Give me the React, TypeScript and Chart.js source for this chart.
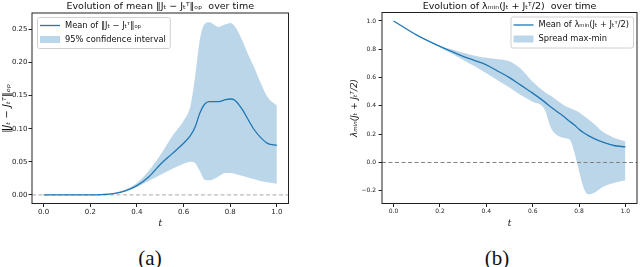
import React, { useEffect, useRef } from "react";
import { Chart, registerables } from "chart.js";
Chart.register(...registerables);

// ---------- data: panel (a) ----------
const tA = [0, 0.05, 0.1, 0.15, 0.2, 0.25, 0.3, 0.35, 0.4, 0.45, 0.5, 0.55, 0.6, 0.63, 0.65, 0.67, 0.69, 0.71, 0.75, 0.78, 0.8, 0.82, 0.85, 0.88, 0.9, 0.93, 0.96, 1.0];
const meanA = [0, 0, 0, 0, 0, 0.0005, 0.002, 0.006, 0.014, 0.027, 0.046, 0.062, 0.078, 0.09, 0.103, 0.124, 0.137, 0.141, 0.141, 0.144, 0.145, 0.143, 0.13, 0.112, 0.1, 0.087, 0.078, 0.075];
const upperA = [0, 0, 0, 0, 0, 0.001, 0.003, 0.008, 0.018, 0.036, 0.06, 0.088, 0.112, 0.135, 0.18, 0.235, 0.258, 0.261, 0.254, 0.258, 0.26, 0.255, 0.235, 0.21, 0.195, 0.17, 0.148, 0.135];
const lowerA = [0, 0, 0, 0, 0, 0.0003, 0.0015, 0.005, 0.012, 0.021, 0.03, 0.039, 0.047, 0.05, 0.048, 0.036, 0.023, 0.022, 0.028, 0.033, 0.033, 0.032, 0.029, 0.026, 0.024, 0.021, 0.019, 0.017];

// ---------- data: panel (b) ----------
const tB = [0, 0.1, 0.2, 0.25, 0.3, 0.35, 0.4, 0.45, 0.5, 0.55, 0.6, 0.65, 0.68, 0.7, 0.73, 0.76, 0.78, 0.8, 0.82, 0.84, 0.87, 0.9, 0.95, 1.0];
const meanB = [1.0, 0.9, 0.82, 0.785, 0.75, 0.72, 0.69, 0.645, 0.6, 0.545, 0.49, 0.43, 0.39, 0.365, 0.33, 0.29, 0.265, 0.235, 0.21, 0.19, 0.165, 0.145, 0.12, 0.11];
const maxB = [1.0, 0.9, 0.825, 0.8, 0.775, 0.755, 0.74, 0.73, 0.715, 0.66, 0.57, 0.5, 0.47, 0.445, 0.41, 0.385, 0.37, 0.355, 0.33, 0.305, 0.265, 0.22, 0.175, 0.15];
const minB = [1.0, 0.9, 0.815, 0.77, 0.725, 0.68, 0.63, 0.58, 0.53, 0.475, 0.43, 0.38, 0.24, 0.2, 0.175, 0.16, 0.07, -0.06, -0.18, -0.225, -0.21, -0.175, -0.145, -0.125];

// ---------- ticks & labels ----------
const xTicks = [0, 0.2, 0.4, 0.6, 0.8, 1.0];
const yTicksA = [0, 0.05, 0.1, 0.15, 0.2, 0.25];
const yTicksB = [-0.2, 0, 0.2, 0.4, 0.6, 0.8, 1.0];
const titleA = "Evolution of mean \u2016J\u209C \u2212 J\u209C\u1D40\u2016\u2092\u209A  over time";
const titleB = "Evolution of \u03BB\u2098\u1D62\u2099(J\u209C + J\u209C\u1D40/2)  over time";
const yLabelA = "\u2016J\u209C \u2212 J\u209C\u1D40\u2016\u2092\u209A";
const yLabelB = "\u03BB\u2098\u1D62\u2099(J\u209C + J\u209C\u1D40/2)";
const legendA = ["Mean of \u2016J\u209C \u2212 J\u209C\u1D40\u2016\u2092\u209A", "95% confidence interval"];
const legendB = ["Mean of \u03BB\u2098\u1D62\u2099(J\u209C + J\u209C\u1D40/2)", "Spread max-min"];
const captions = ["(a)", "(b)"];

const BLUE = "#1f77b4";
const FILL = "rgba(31,119,180,0.3)";
const FONT = "DejaVu Sans";

const pts = (xs: number[], ys: number[]) => xs.map((x, i) => ({ x, y: ys[i] }));

const decorPlugin = {
  id: "decor",
  afterDatasetsDraw(chart: any, _args: any, opts: any) {
    const { ctx, chartArea: a } = chart;
    ctx.save();
    // frame
    ctx.strokeStyle = "#222";
    ctx.lineWidth = 1;
    ctx.strokeRect(a.left, a.top, a.right - a.left, a.bottom - a.top);
    // title
    ctx.fillStyle = "#111";
    ctx.font = `9.5px "${FONT}"`;
    ctx.textAlign = "center";
    ctx.textBaseline = "middle";
    ctx.fillText(opts.title, (a.left + a.right) / 2, 6.5);
    // legend
    ctx.font = `8.3px "${FONT}"`;
    const tw = Math.max(...opts.labels.map((s: string) => ctx.measureText(s).width));
    const w = 3 + 20 + 5 + tw + 4;
    const h = 31;
    const x0 = opts.side === "left" ? a.left + 5 : a.right - 4 - w;
    const y0 = a.top + 4;
    ctx.fillStyle = "rgba(255,255,255,0.85)";
    ctx.strokeStyle = "#d0d0d0";
    ctx.lineWidth = 1;
    ctx.beginPath();
    (ctx as any).roundRect(x0 + 0.5, y0 + 0.5, w, h, 2);
    ctx.fill();
    ctx.stroke();
    const r1 = y0 + 8.5;
    const r2 = y0 + 22.5;
    ctx.strokeStyle = BLUE;
    ctx.lineWidth = 1.3;
    ctx.beginPath();
    ctx.moveTo(x0 + 3, r1);
    ctx.lineTo(x0 + 23, r1);
    ctx.stroke();
    ctx.fillStyle = FILL;
    ctx.fillRect(x0 + 3, r2 - 3.5, 20, 7);
    ctx.fillStyle = "#111";
    ctx.textAlign = "left";
    ctx.fillText(opts.labels[0], x0 + 28, r1);
    ctx.fillText(opts.labels[1], x0 + 28, r2);
    ctx.restore();
  },
};

function makeConfig(p: any) {
  return {
    type: "line",
    data: {
      datasets: [
        { label: p.labels[1], data: pts(p.t, p.hi), fill: "+1", backgroundColor: FILL, borderWidth: 0, pointRadius: 0, order: 3, cubicInterpolationMode: "monotone" },
        { label: "lo", data: pts(p.t, p.lo), fill: false, borderWidth: 0, pointRadius: 0, order: 4, cubicInterpolationMode: "monotone" },
        { label: p.labels[0], data: pts(p.t, p.mean), borderColor: BLUE, borderWidth: 1.3, pointRadius: 0, fill: false, order: 0, cubicInterpolationMode: "monotone" },
        { label: "zero", data: [{ x: p.xmin, y: 0 }, { x: p.xmax, y: 0 }], borderColor: p.zeroColor, borderWidth: 1, borderDash: [4, 2.5], pointRadius: 0, fill: false, order: 1 },
      ],
    },
    options: {
      responsive: false,
      animation: false,
      devicePixelRatio: 1,
      events: [],
      layout: { padding: { top: p.top, left: 0, right: p.padRight, bottom: 0 } },
      plugins: {
        legend: { display: false },
        title: { display: false },
        tooltip: { enabled: false },
        decor: { title: p.title, labels: p.labels, side: p.side },
      },
      scales: {
        x: {
          type: "linear",
          min: p.xmin,
          max: p.xmax,
          afterFit: (s: any) => { s.height = p.xAxisH; },
          afterBuildTicks: (s: any) => { s.ticks = xTicks.map((v) => ({ value: v })); },
          ticks: { font: { family: FONT, size: p.tickSize }, color: "#222", padding: 1, maxRotation: 0, autoSkip: false, callback: (v: number) => v.toFixed(1) },
          grid: { display: true, drawOnChartArea: false, drawTicks: true, tickLength: 3.5, color: "#222" },
          border: { display: false },
          title: { display: true, text: "t", color: "#111", font: { family: "DejaVu Serif", size: 9, style: "italic" }, padding: { top: 0, bottom: 2.5 } },
        },
        y: {
          type: "linear",
          min: p.ymin,
          max: p.ymax,
          afterFit: (s: any) => { s.width = p.yAxisW; },
          afterBuildTicks: (s: any) => { s.ticks = p.yTicks.map((v: number) => ({ value: v })); },
          ticks: { font: { family: FONT, size: p.tickSize }, color: "#222", padding: p.yTickPad, autoSkip: false, callback: (v: number) => v.toFixed(p.dec).replace("-", "\u2212") },
          grid: { display: true, drawOnChartArea: false, drawTicks: true, tickLength: 3.5, color: "#222" },
          border: { display: false },
          title: { display: true, text: p.yLabel, color: "#111", font: { family: FONT, size: p.yTitleSize, style: "italic" }, padding: { top: p.yTitlePad, bottom: 0 } },
        },
      },
    },
    plugins: [decorPlugin],
  };
}

function Panel(props: { p: any; left: number }) {
  const ref = useRef<HTMLCanvasElement | null>(null);
  useEffect(() => {
    const chart = new Chart(ref.current as HTMLCanvasElement, makeConfig(props.p) as any);
    return () => chart.destroy();
  }, []);
  return (
    <canvas ref={ref} width={320} height={232} style={{ position: "absolute", left: props.left, top: 0, width: 320, height: 232 }} />
  );
}

const panelA = {
  t: tA, mean: meanA, hi: upperA, lo: lowerA, xmin: -0.05, xmax: 1.05, ymin: -0.013, ymax: 0.275,
  yTicks: yTicksA, dec: 2, title: titleA, yLabel: yLabelA, labels: legendA, side: "left",
  top: 13, padRight: 31.5, xAxisH: 28.5, yAxisW: 32, tickSize: 7, yTickPad: 1, yTitlePad: 1, yTitleSize: 10, zeroColor: "#aaaaaa",
};
const panelB = {
  t: tB, mean: meanB, hi: maxB, lo: minB, xmin: -0.05, xmax: 1.05, ymin: -0.29, ymax: 1.06,
  yTicks: yTicksB, dec: 1, title: titleB, yLabel: yLabelB, labels: legendB, side: "right",
  top: 12.5, padRight: 3, xAxisH: 28.5, yAxisW: 62, tickSize: 6, yTickPad: 2.5, yTitlePad: 29, yTitleSize: 8.8, zeroColor: "#808080",
};

export default function App() {
  return (
    <div style={{ position: "fixed", left: 0, top: 0, width: 640, height: 267, background: "#fff", overflow: "hidden" }}>
      <Panel p={panelA} left={0} />
      <Panel p={panelB} left={320} />
      {captions.map((c, i) => (
        <div key={c} style={{ position: "absolute", left: i === 0 ? 150 : 497, top: 258, transform: "translate(-50%,-50%)", fontFamily: "Liberation Serif", fontSize: 21, lineHeight: 1, color: "#111" }}>
          {c}
        </div>
      ))}
    </div>
  );
}
